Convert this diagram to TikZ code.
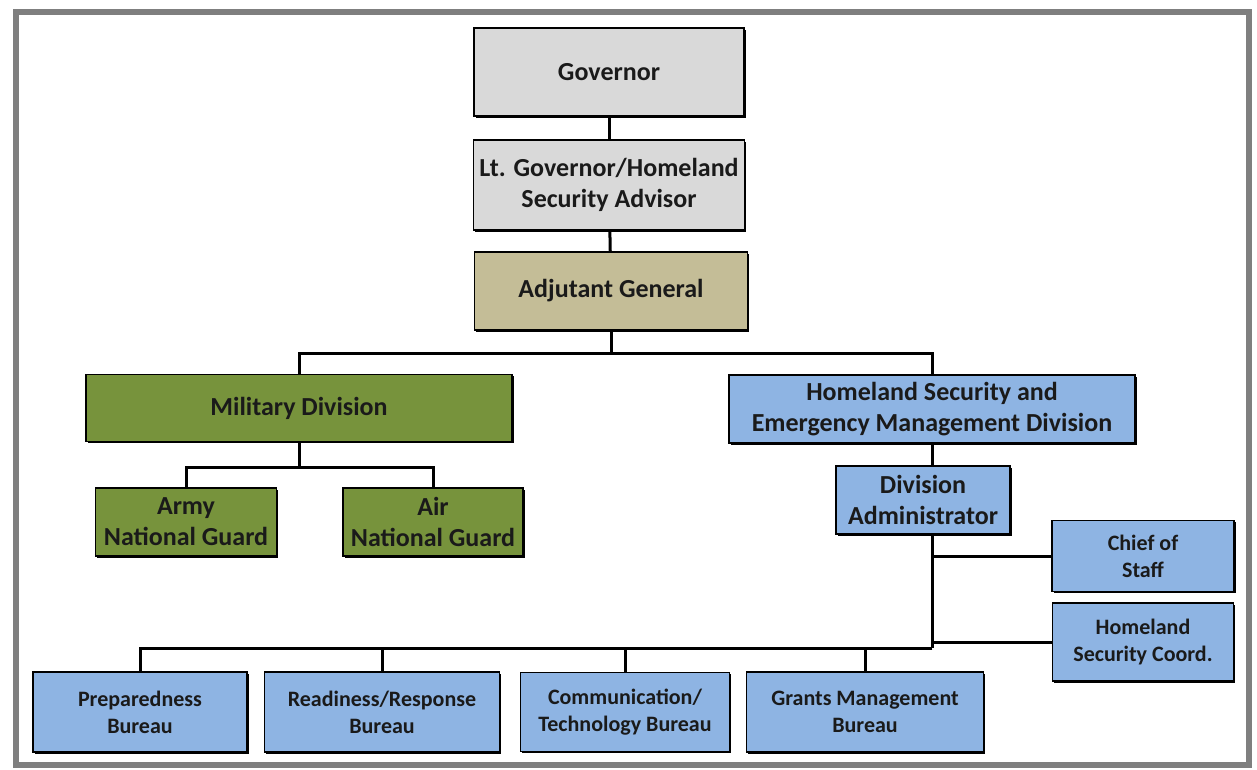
\documentclass[tikz,border=0pt]{standalone}
\usepackage{fontspec}
\setmainfont{Carlito}
\usetikzlibrary{shadows}

\definecolor{govgray}{HTML}{D9D9D9}
\definecolor{agtan}{HTML}{C4BD97}
\definecolor{milgreen}{HTML}{77933C}
\definecolor{hsblue}{HTML}{8EB4E3}
\definecolor{framegray}{HTML}{7F7F7F}
\definecolor{ink}{HTML}{1A1A1A}

\tikzset{
  unit/.style={shape=rectangle,draw=black,line width=1.8pt,text=ink,
    align=center,inner sep=0pt,font=\bfseries\fontsize{26}{31}\selectfont,
    drop shadow={shadow xshift=1.8pt,shadow yshift=-1.8pt,fill=black,opacity=1}},
  small/.style={unit,font=\bfseries\fontsize{22}{27}\selectfont},
  link/.style={line width=3pt,black}
}

\begin{document}
\begin{tikzpicture}[x=1pt,y=-1pt]
\useasboundingbox (0,0) rectangle (1257,770);
\draw [framegray,line width=6pt] (16,12) rectangle (1249,765);

% top of the chain
\path (609,72) node (gov) [unit,fill=govgray,minimum width=270,minimum height=88] {Governor};
\path (609,185) node (ltgov) [unit,fill=govgray,minimum width=271,minimum height=90] {Lt. Governor/Homeland\\Security Advisor};
\path (611,291) node (adj) [unit,fill=agtan,minimum width=273,minimum height=78] {Adjutant General};

% military side
\path (299,408) node (mil) [unit,fill=milgreen,minimum width=426,minimum height=67] {Military Division};
\path (186,522) node (army) [unit,fill=milgreen,minimum width=181,minimum height=68] {Army\\National Guard};
\path (433,522) node (air) [unit,fill=milgreen,minimum width=180,minimum height=68] {Air\\National Guard};

% homeland security side
\path (932,409) node (hsem) [unit,fill=hsblue,minimum width=406,minimum height=68] {Homeland Security and\\Emergency Management Division};
\path (923,500) node (da) [unit,fill=hsblue,minimum width=174,minimum height=68] {Division\\Administrator};
\path (1143,556) node (cos) [small,fill=hsblue,minimum width=182,minimum height=71] {Chief of\\Staff};
\path (1143,642) node (hsc) [small,fill=hsblue,minimum width=181,minimum height=78] {Homeland\\Security Coord.};

% bureaus
\path (140,712) node (prep) [small,fill=hsblue,minimum width=214,minimum height=80] {Preparedness\\Bureau};
\path (382,712) node (ready) [small,fill=hsblue,minimum width=235,minimum height=80] {Readiness/Response\\Bureau};
\path (625,712) node (comm) [small,fill=hsblue,minimum width=209,minimum height=79] {Communication/\\Technology Bureau};
\path (865,712) node (grants) [small,fill=hsblue,minimum width=237,minimum height=80] {Grants Management\\Bureau};

\coordinate (topbus) at (611,353);
\coordinate (milbus) at (299,467);
\coordinate (spine) at (932,648);

\draw [link] (gov) -- (ltgov);
\draw [link] (ltgov) -- (adj);
\draw [link] (adj.south) -- (topbus);
\draw [link] (mil.north) |- (topbus) -| (hsem.north);
\draw [link] (mil.south) -- (milbus);
\draw [link] (army.north) |- (milbus) -| (air.north);
\draw [link] (hsem.south) -- (hsem.south |- da.north);
\draw [link] (da.south -| spine) -- (spine);
\draw [link] (cos.west) -- (cos.west -| spine);
\draw [link] (hsc.west) -- (hsc.west -| spine);
\foreach \b in {prep,ready,comm,grants}
  \draw [link] (spine) -| (\b.north);
\end{tikzpicture}
\end{document}
